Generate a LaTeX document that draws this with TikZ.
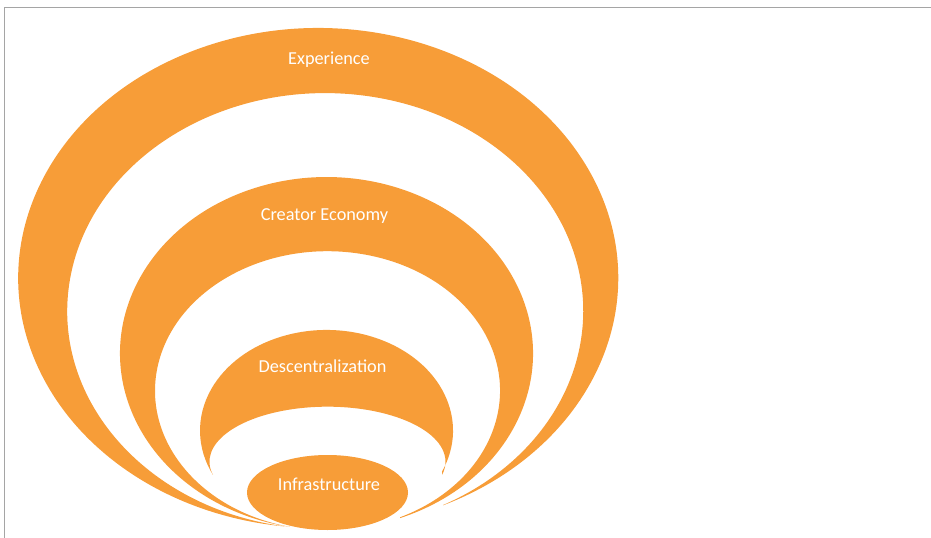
\documentclass[tikz,border=0pt]{standalone}
\usepackage{fontspec}
\setmainfont{Carlito}
\usepackage{tikz}
\definecolor{ringorange}{RGB}{247,157,56}
\definecolor{framegray}{RGB}{165,165,165}

\begin{document}
\begin{tikzpicture}[x=0.2mm, y=0.2mm]
\tikzstyle{every node}+=[inner sep=0pt]
\tikzstyle{ringlabel}=[text=white, anchor=base, font=\fontsize{10.4}{12}\selectfont]
\useasboundingbox (0,0) rectangle (931,-538);
\draw [framegray, line width=0.8pt] (4.5,-538) -- (4.5,-7.5) -- (931,-7.5);
% outer crescent
\fill [ringorange] (443.1,-505.3)
  arc [start angle=-65.4, end angle=263.7, x radius=300, y radius=250]
  arc [start angle=261.1, end angle=-62.8, x radius=258, y radius=218] -- cycle;
% second crescent
\fill [ringorange] (400,-518.1)
  arc [start angle=-69.15, end angle=259.82, x radius=206.5, y radius=176.3]
  arc [start angle=257.44, end angle=-65.15, x radius=172.5, y radius=139.5] -- cycle;
% third crescent
\fill [ringorange] (442,-471.6)
  arc [start angle=-24.07, end angle=206.2, x radius=126.5, y radius=100.6]
  arc [start angle=194, end angle=-14, x radius=118, y radius=55] -- cycle;
% core
\fill [ringorange] (327.5,-492.5) ellipse (80.5 and 37.5);
\node [ringlabel] (experience) at (329,-65) {Experience};
\node [ringlabel] (creator) at (324.5,-220.7) {Creator Economy};
\node [ringlabel] (descent) at (322.5,-372) {Descentralization};
\node [ringlabel] (infra) at (329,-490) {Infrastructure};
\end{tikzpicture}
\end{document}
